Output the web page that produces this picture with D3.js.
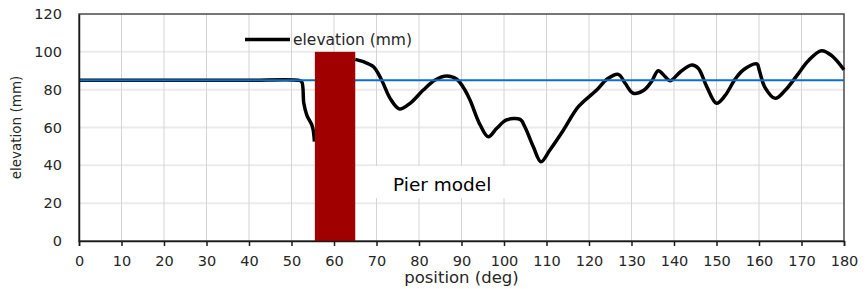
<!DOCTYPE html>
<html>
<head>
<meta charset="utf-8">
<script src="https://cdn.jsdelivr.net/npm/d3@7"></script>
<style>
  body { margin: 0; background: #fff; }
  text { font-family: "DejaVu Sans", sans-serif; fill: #262626; }
</style>
</head>
<body>
<script>
// elevation profile (null = hidden behind the pier)
var position = [0, 10, 20, 30, 40, 51.6, 52.4, 52.9, 53.6, 54.8, 55.1, 55.4, null,
  65, 66.9, 69.3, 71.2, 73.2, 75.4, 77.9, 81, 83.8, 86.5, 88.9, 90.8, 92, 94.4, 96.3,
  98.3, 100.6, 103.8, 104.9, 106.9, 108.7, 110.8, 114, 117.5, 121.8, 124.2, 126.9,
  128.5, 130.4, 132.8, 134.7, 136.3, 137.9, 139.1, 141.4, 144.2, 145.7, 147.7, 150,
  152, 154.4, 156.3, 159.5, 160.1, 161.4, 163.8, 166.1, 168.9, 171.6, 174.7, 177.1, 180];
var elevation = [85, 85, 85, 85, 85, 85, 84.2, 72.8, 66.6, 61.3, 58.7, 52.5, null,
  96, 94.8, 92.1, 85.1, 75.4, 69.8, 72.8, 79.8, 85.1, 87.2, 85.5, 79.8, 74.5, 61.3, 55.1,
  59.6, 64, 64.3, 60.4, 49.8, 41.9, 48.1, 58.7, 71, 79.8, 85.5, 88.1,
  83.4, 78.1, 79.5, 84.2, 90, 86.9, 84.7, 89.2, 93, 91.3, 81.6, 72.8,
  76.8, 85.6, 90.4, 93.6, 90, 81.2, 75.4, 79.5, 87.4, 95.3, 100.6, 98, 90.5];
var reference = 85;
var pier = [55.5, 65, 100];   // from, to, height
var xTicks = d3.range(0, 181, 10);
var yTicks = d3.range(0, 121, 20);

var margin = {top: 14, right: 22, bottom: 48, left: 79}
  , width = 866 - margin.left - margin.right
  , height = 289 - margin.top - margin.bottom;

var x = d3.scaleLinear().domain([0, 180]).range([0, width]);
var y = d3.scaleLinear().domain([0, 120]).range([height, 0]);

var svg = d3.select('body').append('svg')
  .attr('width', 866).attr('height', 289);

var main = svg.append('g')
  .attr('transform', 'translate(' + margin.left + ',' + margin.top + ')');

// grid
main.selectAll('.hgrid').data(yTicks.slice(1, -1)).enter().append('line')
  .attr('x1', 0).attr('x2', width)
  .attr('y1', function (d) { return y(d); }).attr('y2', function (d) { return y(d); })
  .attr('stroke', '#ebebeb').attr('stroke-width', 2);
main.selectAll('.vgrid').data(xTicks.slice(1, -1)).enter().append('line')
  .attr('x1', function (d) { return x(d); }).attr('x2', function (d) { return x(d); })
  .attr('y1', 0).attr('y2', height)
  .attr('stroke', '#d4d4d4').attr('stroke-width', 1);

// white box behind the label
main.append('rect')
  .attr('x', 289).attr('y', 152).attr('width', 152).attr('height', 32)
  .attr('fill', '#fff');

// frame (top / right)
main.append('rect')
  .attr('x', 0).attr('y', 0).attr('width', width).attr('height', height)
  .attr('fill', 'none').attr('stroke', '#4a4a4a').attr('stroke-width', 1.5);

// elevation line
var pts = position.map(function (p, i) { return [p, elevation[i]]; });
var line = d3.line()
  .defined(function (d) { return d[0] != null && d[1] != null; })
  .x(function (d) { return x(d[0]); })
  .y(function (d) { return y(d[1]); })
  .curve(d3.curveCatmullRom.alpha(0.5));
main.append('path').datum(pts)
  .attr('d', line)
  .attr('fill', 'none').attr('stroke', '#000').attr('stroke-width', 3.5)
  .attr('stroke-linejoin', 'round');

// reference level
main.append('line')
  .attr('x1', 0).attr('x2', width)
  .attr('y1', y(reference)).attr('y2', y(reference))
  .attr('stroke', '#0a6fcc').attr('stroke-width', 2);

// pier
main.append('rect')
  .attr('x', x(pier[0])).attr('width', x(pier[1]) - x(pier[0]))
  .attr('y', y(pier[2])).attr('height', y(0) - y(pier[2]))
  .attr('fill', '#a00000');

// axes
var xAxis = d3.axisBottom(x).tickValues(xTicks).tickSize(5).tickPadding(10);
var gx = main.append('g')
  .attr('transform', 'translate(0,' + height + ')')
  .call(xAxis);
gx.select('.domain').attr('stroke', '#1a1a1a').attr('stroke-width', 1.5);
gx.selectAll('.tick line').attr('stroke', '#1a1a1a').attr('stroke-width', 1.5);
gx.selectAll('text').style('font-size', '14.5px').attr('fill', '#262626');

var yAxis = d3.axisLeft(y).tickValues(yTicks).tickSize(0).tickPadding(17);
var gy = main.append('g').call(yAxis);
gy.select('.domain').attr('stroke', '#1a1a1a').attr('stroke-width', 1.5);
gy.selectAll('text').style('font-size', '14.5px').attr('fill', '#262626');

// axis titles
svg.append('text')
  .attr('x', margin.left + x(90)).attr('y', 283)
  .attr('text-anchor', 'middle').style('font-size', '16.5px')
  .text('position (deg)');
svg.append('text')
  .attr('transform', 'translate(21,' + (margin.top + y(60)) + ') rotate(-90)')
  .attr('text-anchor', 'middle').style('font-size', '13.5px')
  .text('elevation (mm)');

// legend
svg.append('line')
  .attr('x1', 245).attr('x2', 290).attr('y1', 39.5).attr('y2', 39.5)
  .attr('stroke', '#000').attr('stroke-width', 3.5);
svg.append('text')
  .attr('x', 293).attr('y', 45).style('font-size', '15.5px')
  .text('elevation (mm)');

// label
svg.append('text')
  .attr('x', 393).attr('y', 191).style('font-size', '18.5px')
  .style('fill', '#000')
  .text('Pier model');
</script>
</body>
</html>
